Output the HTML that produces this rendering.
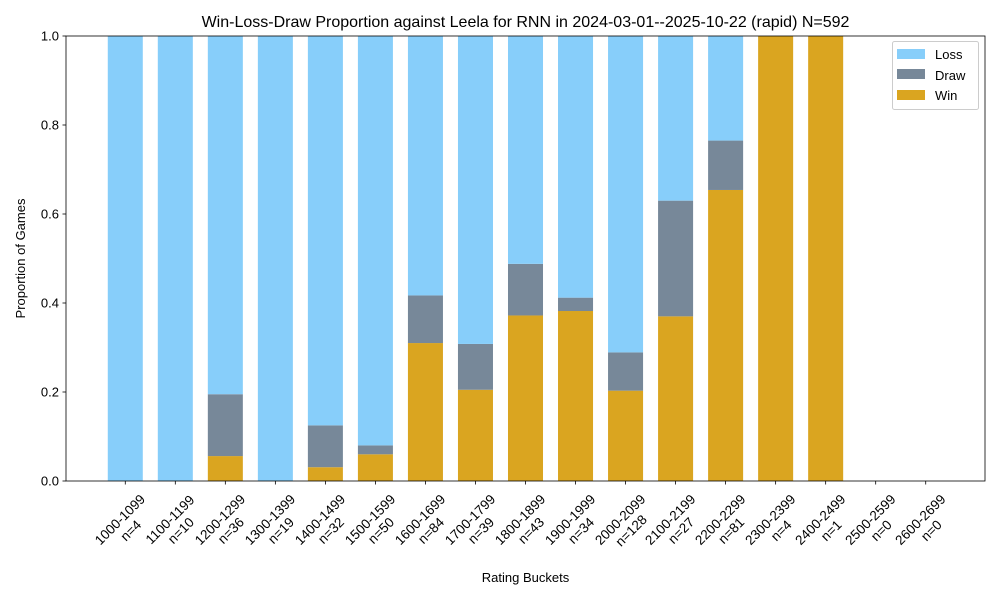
<!DOCTYPE html>
<html><head><meta charset="utf-8"><style>
body{margin:0;background:#fff;}
svg{display:block;font-family:"Liberation Sans","DejaVu Sans",sans-serif;}
</style></head><body>
<svg id="chart" width="1000" height="600">
<rect width="1000" height="600" fill="#fff"/>
<text x="525.5" y="27" font-size="16" text-anchor="middle">Win-Loss-Draw Proportion against Leela for RNN in 2024-03-01--2025-10-22 (rapid) N=592</text>
<g id="bars"></g>
<g id="axes"></g>
<text x="525.5" y="582" font-size="13" text-anchor="middle">Rating Buckets</text>
<text transform="translate(25,258.5) rotate(-90)" font-size="13" text-anchor="middle">Proportion of Games</text>
<g>
<rect x="892.5" y="41.5" width="86" height="68" rx="2" fill="#fff" stroke="#ccc"/>
<g><rect x="897" y="49" width="28" height="10" fill="#87cefa"/><text x="935" y="59" font-size="13">Loss</text></g>
<g><rect x="897" y="69" width="28" height="10" fill="#778899"/><text x="935" y="80" font-size="13">Draw</text></g>
<g><rect x="897" y="90" width="28" height="10" fill="#daa520"/><text x="935" y="100" font-size="13">Win</text></g>
</g>
</svg>
<script>
const categories = ["1000-1099","1100-1199","1200-1299","1300-1399","1400-1499","1500-1599","1600-1699","1700-1799","1800-1899","1900-1999","2000-2099","2100-2199","2200-2299","2300-2399","2400-2499","2500-2599","2600-2699"];
const counts = [4,10,36,19,32,50,84,39,43,34,128,27,81,4,1,0,0];
const winValues = [0,0,0.056,0,0.031,0.06,0.31,0.205,0.372,0.382,0.203,0.37,0.654,1,1,0,0];
const drawValues = [0,0,0.139,0,0.094,0.02,0.107,0.103,0.116,0.03,0.086,0.26,0.111,0,0,0,0];
const lossValues = [1,1,0.805,1,0.875,0.92,0.583,0.692,0.512,0.588,0.711,0.37,0.235,0,0,0,0];
const yTicks = [0,0.2,0.4,0.6,0.8,1.0];

const L=66,R=985,T=36,B=481;
const xMin=-1.185,xMax=categories.length-1+1.185;
const xs=i=>L+(i-xMin)/(xMax-xMin)*(R-L);
const ys=v=>B-v*(B-T);
const bw=0.7*(R-L)/(xMax-xMin);
const NS="http://www.w3.org/2000/svg";
const bars=document.getElementById('bars'), axes=document.getElementById('axes');
function mk(tag,attrs,parent){const e=document.createElementNS(NS,tag);for(const k in attrs)e.setAttribute(k,attrs[k]);parent.appendChild(e);return e;}
categories.forEach((c,i)=>{
  const x=xs(i)-bw/2;
  const w=winValues[i],d=drawValues[i],l=lossValues[i];
  const segs=[[0,w,'#daa520','win'],[w,w+d,'#778899','draw'],[w+d,w+d+l,'#87cefa','loss']];
  segs.forEach(s=>{
    if(s[1]-s[0]<=0)return;
    const r=mk('rect',{x:x,y:ys(s[1]),width:bw,height:ys(s[0])-ys(s[1]),fill:s[2]},bars);
    
    
  });
  mk('line',{x1:xs(i),x2:xs(i),y1:B,y2:B+3.5,stroke:'#000','stroke-width':0.8},axes);
  const g=mk('g',{transform:`translate(${xs(i)},${B+44}) rotate(-45)`},axes);
  
  
  const t=mk('text',{'font-size':13.5,'text-anchor':'middle'},g);
  const t1=mk('tspan',{x:0,y:-3},t);t1.textContent=c;
  const t2=mk('tspan',{x:0,y:12.5},t);t2.textContent='n='+counts[i];
});
yTicks.forEach(v=>{
  mk('line',{x1:L-3.5,x2:L,y1:ys(v),y2:ys(v),stroke:'#000','stroke-width':0.8},axes);
  const t=mk('text',{x:L-7,y:ys(v)+4.5,'font-size':13,'text-anchor':'end'},axes);
  
  
  t.textContent=v.toFixed(1);
});
const fr=mk('rect',{x:L,y:T,width:R-L,height:B-T,fill:'none',stroke:'#000','stroke-width':0.8},axes);


</script>
</body></html>
